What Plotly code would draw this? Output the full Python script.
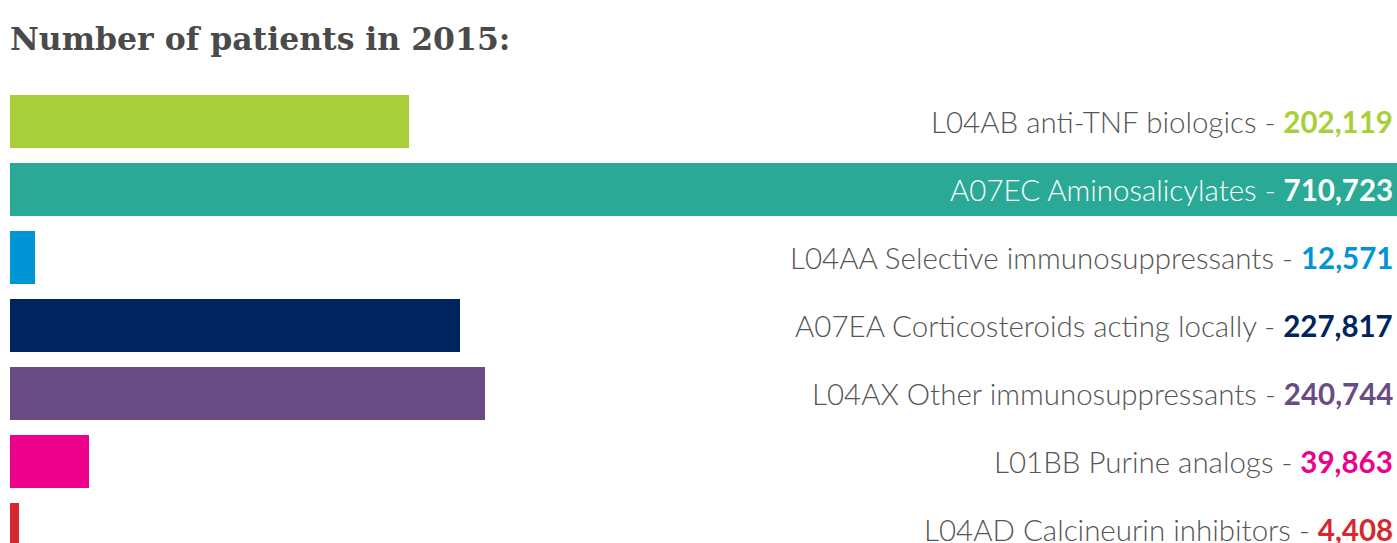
import plotly.graph_objects as go

categories = ["L04AB anti-TNF biologics", "A07EC Aminosalicylates",
              "L04AA Selective immunosuppressants", "A07EA Corticosteroids acting locally",
              "L04AX Other immunosuppressants", "L01BB Purine analogs",
              "L04AD Calcineurin inhibitors"]
values = [202119, 710723, 12571, 227817, 240744, 39863, 4408]
colors = ["#A8CF3A", "#2AAA96", "#0096D6", "#00245D", "#6A4C85", "#EC008C", "#D7282F"]
title_text = "Number of patients in 2015:"

ypos = list(range(len(categories)))

fig = go.Figure()
fig.add_trace(go.Bar(
    x=values, y=ypos, orientation="h", marker=dict(color=colors, line=dict(width=0)),
    width=0.78, hoverinfo="skip", showlegend=False,
))

for i, (c, v, col) in enumerate(zip(categories, values, colors)):
    inside = v > 600000
    txt_col = "#FFFFFF" if inside else "#555555"
    num_col = "#FFFFFF" if inside else col
    fig.add_annotation(
        x=1, xref="paper", y=i, yref="y", xanchor="right", yanchor="middle",
        xshift=-2, showarrow=False,
        text=f"<span style='color:{txt_col}'>{c} - </span><b><span style='color:{num_col}'>{v:,}</span></b>",
        font=dict(family="Lato", size=29.5, color=txt_col, weight=300),
    )

fig.add_annotation(
    x=0, xref="paper", y=0, yref="paper", xanchor="left", yanchor="middle",
    xshift=-2, yshift=543 - 38, showarrow=False, text=f"<b>{title_text}</b>",
    font=dict(family="DejaVu Serif", size=31.5, color="#4A4A4A"),
)

fig.update_layout(
    width=1397, height=543, margin=dict(l=10, r=0, t=0, b=0),
    paper_bgcolor="white", plot_bgcolor="white", bargap=0,
    xaxis=dict(range=[0, 702300], visible=False, fixedrange=True),
    yaxis=dict(range=[6.199, -1.787], visible=False, fixedrange=True),
)
fig.write_html("out.html")
